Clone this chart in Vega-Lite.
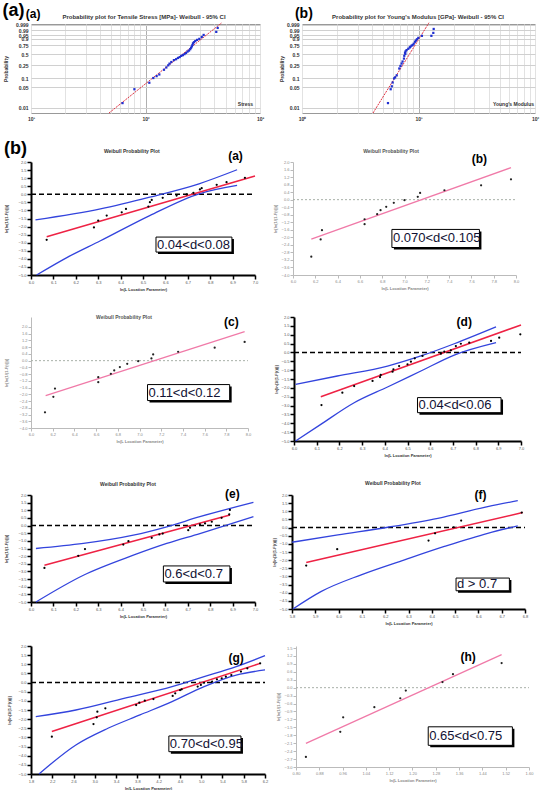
{
"$schema": "https://vega.github.io/schema/vega-lite/v6.json",
"padding": {"left": 2, "top": 1, "right": 0, "bottom": 0},
"background": "white",
"config": {"view": {"stroke": null}, "font": "Liberation Sans", "axis": {"labelFont": "Liberation Sans", "titleFont": "Liberation Sans"}, "title": {"font": "Liberation Sans"}},
"datasets": {
"ta": [
{"k":"fit","x":48,"y":-5},{"k":"fit","x":464,"y":2.1},
{"k":"pt","x":63,"y":-4.22},{"k":"pt","x":80,"y":-3.13},{"k":"pt","x":108,"y":-2.62},{"k":"pt","x":117,"y":-2.25},{"k":"pt","x":125,"y":-2.1},{"k":"pt","x":132,"y":-1.97},{"k":"pt","x":145,"y":-1.6},{"k":"pt","x":152,"y":-1.42},{"k":"pt","x":158,"y":-1.25},{"k":"pt","x":162,"y":-1.12},{"k":"pt","x":168,"y":-0.99},{"k":"pt","x":177,"y":-0.84},{"k":"pt","x":185,"y":-0.77},{"k":"pt","x":192,"y":-0.67},{"k":"pt","x":199,"y":-0.6},{"k":"pt","x":205,"y":-0.51},{"k":"pt","x":212,"y":-0.45},{"k":"pt","x":219,"y":-0.37},{"k":"pt","x":226,"y":-0.28},{"k":"pt","x":233,"y":-0.17},{"k":"pt","x":240,"y":-0.09},{"k":"pt","x":246,"y":0.02},{"k":"pt","x":250,"y":0.13},{"k":"pt","x":254,"y":0.24},{"k":"pt","x":257,"y":0.35},{"k":"pt","x":260,"y":0.48},{"k":"pt","x":265,"y":0.57},{"k":"pt","x":272,"y":0.66},{"k":"pt","x":282,"y":0.75},{"k":"pt","x":295,"y":0.83},{"k":"pt","x":310,"y":0.98},{"k":"pt","x":322,"y":1.14},{"k":"pt","x":415,"y":1.38},{"k":"pt","x":427,"y":1.69},
{"k":"txt","x":640,"y":-4.3,"t":"Stress"},
{"k":"ttl","x":97,"y":2.57,"t":"Probability plot for Tensile Stress [MPa]-  Weibull - 95% CI"},
{"k":"lab","x":9.0,"y":2.47,"t":"(a)"}
],
"tb": [
{"k":"fit","x":4.07,"y":-5},{"k":"fit","x":12.3,"y":2.1},
{"k":"pt","x":5.47,"y":-4.22},{"k":"pt","x":5.77,"y":-3.13},{"k":"pt","x":5.9,"y":-2.9},{"k":"pt","x":6.0,"y":-2.6},{"k":"pt","x":6.17,"y":-2.28},{"k":"pt","x":6.3,"y":-2.2},{"k":"pt","x":6.5,"y":-2.04},{"k":"pt","x":6.84,"y":-1.5},{"k":"pt","x":7.0,"y":-1.3},{"k":"pt","x":7.16,"y":-1.11},{"k":"pt","x":7.3,"y":-0.95},{"k":"pt","x":7.5,"y":-0.72},{"k":"pt","x":7.55,"y":-0.5},{"k":"pt","x":7.66,"y":-0.26},{"k":"pt","x":7.7,"y":-0.35},{"k":"pt","x":7.75,"y":-0.15},{"k":"pt","x":7.9,"y":-0.05},{"k":"pt","x":8.17,"y":0.05},{"k":"pt","x":8.4,"y":0.15},{"k":"pt","x":8.5,"y":0.2},{"k":"pt","x":8.7,"y":0.29},{"k":"pt","x":8.9,"y":0.35},{"k":"pt","x":9.1,"y":0.45},{"k":"pt","x":9.33,"y":0.6},{"k":"pt","x":9.5,"y":0.7},{"k":"pt","x":9.7,"y":0.8},{"k":"pt","x":9.96,"y":0.91},{"k":"pt","x":10.7,"y":1.07},{"k":"pt","x":12.9,"y":1.07},{"k":"pt","x":13.4,"y":1.3},{"k":"pt","x":13.5,"y":1.61},
{"k":"txt","x":43.6,"y":-4.3,"t":"Young's Modulus"},
{"k":"ttl","x":9.9,"y":2.57,"t":"Probability plot for Young's Modulus [GPa]-  Weibull - 95% CI"},
{"k":"lab","x":0.87,"y":2.47,"t":"(b)"}
],
"wa": [
{"k":"zero","x":6,"y":0},{"k":"zero","x":7,"y":0},
{"k":"fit","x":6.07,"y":-2.63},{"k":"fit","x":7.0,"y":1.13},
{"k":"ciu","x":6.02,"y":-1.59},{"k":"ciu","x":6.31,"y":-0.91},{"k":"ciu","x":6.53,"y":-0.18},{"k":"ciu","x":6.75,"y":0.65},{"k":"ciu","x":6.92,"y":1.52},
{"k":"cil","x":6.025,"y":-5.0},{"k":"cil","x":6.16,"y":-3.92},{"k":"cil","x":6.31,"y":-2.88},{"k":"cil","x":6.53,"y":-1.32},{"k":"cil","x":6.75,"y":0.03},{"k":"cil","x":6.92,"y":0.55},
{"k":"pt","x":6.07,"y":-2.82},{"k":"pt","x":6.281,"y":-2.05},{"k":"pt","x":6.30,"y":-1.63},{"k":"pt","x":6.338,"y":-1.32},{"k":"pt","x":6.405,"y":-1.12},{"k":"pt","x":6.424,"y":-0.91},{"k":"pt","x":6.524,"y":-0.76},{"k":"pt","x":6.531,"y":-0.49},{"k":"pt","x":6.539,"y":-0.35},{"k":"pt","x":6.588,"y":-0.22},{"k":"pt","x":6.65,"y":-0.08},{"k":"pt","x":6.695,"y":-0.01},{"k":"pt","x":6.725,"y":0.09},{"k":"pt","x":6.754,"y":0.30},{"k":"pt","x":6.762,"y":0.38},{"k":"pt","x":6.829,"y":0.59},{"k":"pt","x":6.873,"y":0.75},{"k":"pt","x":6.955,"y":1.02},
{"k":"box","x":6.558,"x2":6.897,"y":-2.65,"y2":-3.58,"ym":-3.115,"t":"0.04<d<0.08"},
{"k":"ttl","x":6.45,"y":2.68,"t":"Weibull Probability Plot"},
{"k":"lab","x":6.913,"y":2.12,"t":"(a)"}
],
"wb": [
{"k":"zero","x":6,"y":0},{"k":"zero","x":8,"y":0},
{"k":"fit","x":6.164,"y":-2.09},{"k":"fit","x":7.955,"y":1.70},
{"k":"pt","x":6.164,"y":-3.03},{"k":"pt","x":6.248,"y":-2.11},{"k":"pt","x":6.26,"y":-1.62},{"k":"pt","x":6.642,"y":-1.04},{"k":"pt","x":6.642,"y":-1.30},{"k":"pt","x":6.755,"y":-0.77},{"k":"pt","x":6.785,"y":-0.56},{"k":"pt","x":6.836,"y":-0.38},{"k":"pt","x":6.904,"y":-0.17},{"k":"pt","x":7.0,"y":-0.03},{"k":"pt","x":7.119,"y":0.15},{"k":"pt","x":7.14,"y":0.36},{"k":"pt","x":7.358,"y":0.5},{"k":"pt","x":7.687,"y":0.76},{"k":"pt","x":7.955,"y":1.08},
{"k":"box","x":6.887,"x2":7.672,"y":-1.58,"y2":-2.54,"ym":-2.06,"t":"0.070<d<0.105"},
{"k":"ttl","x":6.879,"y":2.58,"t":"Weibull Probability Plot"},
{"k":"lab","x":7.672,"y":1.95,"t":"(b)"}
],
"wc": [
{"k":"zero","x":6,"y":0},{"k":"zero","x":8,"y":0},
{"k":"fit","x":6.135,"y":-2.07},{"k":"fit","x":7.969,"y":1.72},
{"k":"pt","x":6.129,"y":-3.07},{"k":"pt","x":6.206,"y":-2.15},{"k":"pt","x":6.221,"y":-1.66},{"k":"pt","x":6.62,"y":-0.98},{"k":"pt","x":6.62,"y":-1.28},{"k":"pt","x":6.736,"y":-0.78},{"k":"pt","x":6.767,"y":-0.58},{"k":"pt","x":6.819,"y":-0.38},{"k":"pt","x":6.887,"y":-0.19},{"k":"pt","x":6.988,"y":-0.03},{"k":"pt","x":7.11,"y":0.13},{"k":"pt","x":7.126,"y":0.37},{"k":"pt","x":7.356,"y":0.53},{"k":"pt","x":7.693,"y":0.77},{"k":"pt","x":7.969,"y":1.11},
{"k":"box","x":7.074,"x2":7.831,"y":-1.42,"y2":-2.37,"ym":-1.895,"t":"0.11<d<0.12"},
{"k":"ttl","x":6.857,"y":2.59,"t":"Weibull Probability Plot"},
{"k":"lab","x":7.847,"y":2.06,"t":"(c)"}
],
"wd": [
{"k":"zero","x":6,"y":0},{"k":"zero","x":7,"y":0},
{"k":"fit","x":6.118,"y":-2.5},{"k":"fit","x":7.0,"y":1.55},
{"k":"ciu","x":6.007,"y":-1.80},{"k":"ciu","x":6.191,"y":-1.33},{"k":"ciu","x":6.412,"y":-0.77},{"k":"ciu","x":6.559,"y":-0.20},{"k":"ciu","x":6.706,"y":0.49},{"k":"ciu","x":6.89,"y":1.44},
{"k":"cil","x":6.007,"y":-5.0},{"k":"cil","x":6.118,"y":-4.06},{"k":"cil","x":6.265,"y":-2.84},{"k":"cil","x":6.412,"y":-1.95},{"k":"cil","x":6.559,"y":-1.05},{"k":"cil","x":6.706,"y":-0.15},{"k":"cil","x":6.89,"y":0.55},
{"k":"pt","x":6.121,"y":-2.97},{"k":"pt","x":6.213,"y":-2.27},{"k":"pt","x":6.265,"y":-1.90},{"k":"pt","x":6.346,"y":-1.61},{"k":"pt","x":6.379,"y":-1.39},{"k":"pt","x":6.382,"y":-1.27},{"k":"pt","x":6.434,"y":-1.09},{"k":"pt","x":6.438,"y":-0.95},{"k":"pt","x":6.463,"y":-0.77},{"k":"pt","x":6.5,"y":-0.67},{"k":"pt","x":6.515,"y":-0.52},{"k":"pt","x":6.532,"y":-0.33},{"k":"pt","x":6.566,"y":-0.20},{"k":"pt","x":6.647,"y":-0.07},{"k":"pt","x":6.662,"y":0.04},{"k":"pt","x":6.691,"y":0.12},{"k":"pt","x":6.713,"y":0.36},{"k":"pt","x":6.735,"y":0.49},{"k":"pt","x":6.772,"y":0.55},{"k":"pt","x":6.868,"y":0.65},{"k":"pt","x":6.904,"y":0.83},{"k":"pt","x":6.997,"y":1.02},
{"k":"box","x":6.544,"x2":6.912,"y":-2.55,"y2":-3.40,"ym":-2.975,"t":"0.04<d<0.06"},
{"k":"lab","x":6.75,"y":1.5,"t":"(d)"}
],
"we": [
{"k":"zero","x":6,"y":0},{"k":"zero","x":7,"y":0},
{"k":"fit","x":6.06,"y":-2.59},{"k":"fit","x":6.888,"y":0.69},
{"k":"ciu","x":6.022,"y":-1.5},{"k":"ciu","x":6.234,"y":-1.17},{"k":"ciu","x":6.457,"y":-0.63},{"k":"ciu","x":6.606,"y":-0.08},{"k":"ciu","x":6.754,"y":0.58},{"k":"ciu","x":6.993,"y":1.52},
{"k":"cil","x":6.022,"y":-5.0},{"k":"cil","x":6.234,"y":-3.25},{"k":"cil","x":6.457,"y":-1.94},{"k":"cil","x":6.606,"y":-1.17},{"k":"cil","x":6.754,"y":-0.52},{"k":"cil","x":6.993,"y":0.58},
{"k":"pt","x":6.06,"y":-2.77},{"k":"pt","x":6.211,"y":-1.98},{"k":"pt","x":6.241,"y":-1.54},{"k":"pt","x":6.412,"y":-1.24},{"k":"pt","x":6.435,"y":-1.02},{"k":"pt","x":6.539,"y":-0.80},{"k":"pt","x":6.573,"y":-0.58},{"k":"pt","x":6.588,"y":-0.52},{"k":"pt","x":6.702,"y":-0.30},{"k":"pt","x":6.71,"y":-0.14},{"k":"pt","x":6.754,"y":0.08},{"k":"pt","x":6.777,"y":0.14},{"k":"pt","x":6.807,"y":0.25},{"k":"pt","x":6.851,"y":0.51},{"k":"pt","x":6.885,"y":0.73},{"k":"pt","x":6.888,"y":1.02},
{"k":"box","x":6.591,"x2":6.888,"y":-2.64,"y2":-3.69,"ym":-3.165,"t":"0.6<d<0.7"},
{"k":"ttl","x":6.433,"y":2.72,"t":"Weibull Probability Plot"},
{"k":"lab","x":6.899,"y":1.8,"t":"(e)"}
],
"wf": [
{"k":"zero","x":5.8,"y":0},{"k":"zero","x":6.8,"y":0},
{"k":"fit","x":5.861,"y":-2.14},{"k":"fit","x":6.79,"y":0.92},
{"k":"ciu","x":5.8,"y":-0.9},{"k":"ciu","x":5.997,"y":-0.45},{"k":"ciu","x":6.211,"y":0.02},{"k":"ciu","x":6.426,"y":0.57},{"k":"ciu","x":6.64,"y":1.29},{"k":"ciu","x":6.769,"y":1.65},
{"k":"cil","x":5.804,"y":-5.0},{"k":"cil","x":5.926,"y":-3.92},{"k":"cil","x":6.097,"y":-2.90},{"k":"cil","x":6.283,"y":-1.98},{"k":"cil","x":6.454,"y":-1.16},{"k":"cil","x":6.64,"y":-0.35},{"k":"cil","x":6.769,"y":0.10},
{"k":"pt","x":5.861,"y":-2.33},{"k":"pt","x":5.994,"y":-1.33},{"k":"pt","x":6.386,"y":-0.80},{"k":"pt","x":6.414,"y":-0.35},{"k":"pt","x":6.494,"y":0.02},{"k":"pt","x":6.526,"y":0.43},{"k":"pt","x":6.786,"y":0.92},
{"k":"box","x":6.504,"x2":6.733,"y":-3.10,"y2":-3.88,"ym":-3.49,"t":"d > 0.7"},
{"k":"ttl","x":6.233,"y":2.74,"t":"Weibull Probability Plot"},
{"k":"lab","x":6.609,"y":1.73,"t":"(f)"}
],
"wg": [
{"k":"zero","x":1.8,"y":0},{"k":"zero","x":6.2,"y":0},
{"k":"fit","x":2.192,"y":-2.68},{"k":"fit","x":6.11,"y":1.05},
{"k":"ciu","x":1.89,"y":-1.86},{"k":"ciu","x":2.644,"y":-1.5},{"k":"ciu","x":3.548,"y":-0.86},{"k":"ciu","x":4.452,"y":-0.22},{"k":"ciu","x":5.055,"y":0.32},{"k":"ciu","x":5.658,"y":0.87},{"k":"ciu","x":6.2,"y":1.47},
{"k":"cil","x":1.95,"y":-5.0},{"k":"cil","x":2.644,"y":-3.41},{"k":"cil","x":3.247,"y":-2.50},{"k":"cil","x":3.849,"y":-1.77},{"k":"cil","x":4.452,"y":-1.04},{"k":"cil","x":5.055,"y":-0.22},{"k":"cil","x":5.658,"y":0.41},{"k":"cil","x":6.2,"y":0.69},
{"k":"pt","x":2.192,"y":-2.96},{"k":"pt","x":2.975,"y":-2.27},{"k":"pt","x":3.036,"y":-1.90},{"k":"pt","x":3.048,"y":-1.59},{"k":"pt","x":3.198,"y":-1.41},{"k":"pt","x":3.777,"y":-1.23},{"k":"pt","x":3.837,"y":-1.10},{"k":"pt","x":3.94,"y":-0.99},{"k":"pt","x":4.102,"y":-0.90},{"k":"pt","x":4.464,"y":-0.73},{"k":"pt","x":4.512,"y":-0.59},{"k":"pt","x":4.603,"y":-0.41},{"k":"pt","x":4.633,"y":-0.37},{"k":"pt","x":4.934,"y":-0.22},{"k":"pt","x":4.994,"y":-0.13},{"k":"pt","x":5.055,"y":-0.01},{"k":"pt","x":5.205,"y":0.05},{"k":"pt","x":5.296,"y":0.18},{"k":"pt","x":5.386,"y":0.23},{"k":"pt","x":5.464,"y":0.32},{"k":"pt","x":5.567,"y":0.41},{"k":"pt","x":5.748,"y":0.60},{"k":"pt","x":5.868,"y":0.78},{"k":"pt","x":6.109,"y":1.05},
{"k":"box","x":4.392,"x2":5.748,"y":-2.92,"y2":-3.78,"ym":-3.35,"t":"0.70<d<0.95"},
{"k":"lab","x":5.657,"y":1.1,"t":"(g)"}
],
"wh": [
{"k":"zero","x":0.8,"y":0},{"k":"zero","x":1.6,"y":0},
{"k":"fit","x":0.834,"y":-2.11},{"k":"fit","x":1.506,"y":1.25},
{"k":"pt","x":0.834,"y":-2.62},{"k":"pt","x":0.952,"y":-1.67},{"k":"pt","x":0.962,"y":-1.12},{"k":"pt","x":1.069,"y":-0.74},{"k":"pt","x":1.158,"y":-0.40},{"k":"pt","x":1.177,"y":-0.11},{"k":"pt","x":1.303,"y":0.21},{"k":"pt","x":1.339,"y":0.51},{"k":"pt","x":1.506,"y":0.93},
{"k":"box","x":1.254,"x2":1.543,"y":-1.48,"y2":-2.18,"ym":-1.83,"t":"0.65<d<0.75"},
{"k":"lab","x":1.391,"y":0.99,"t":"(h)"}
]
},
"columns": 1, "align": "none", "spacing": 18,
"concat": [
{
"title": {"text": "(a)", "anchor": "start", "fontSize": 18, "fontWeight": "bold", "color": "black", "offset": -13},
"columns": 2, "align": "none", "spacing": 13,
"concat": [
{
"width": 229, "height": 89, "view": {"stroke": "#999"},
"data": {"name": "ta"},
"encoding": {
"x": {"field": "x", "type": "quantitative", "scale": {"type": "log", "domain": [10, 1000]}, "axis": {"title": null, "values": [10,20,30,40,50,60,70,80,90,100,200,300,400,500,600,700,800,900,1000], "labelExpr": "datum.value==10?'10¹':datum.value==100?'10²':datum.value==1000?'10³':''", "labelFontSize": 5, "labelFontWeight": "bold", "labelColor": "#333", "tickSize": 0, "domain": false, "labelPadding": 3, "labelFlush": false, "labelOverlap": false, "grid": true, "gridColor": {"condition": {"test": "datum.value==100", "value": "#b0b0b0"}, "value": "#e2e2e2"}}},
"y": {"field": "y", "type": "quantitative", "scale": {"domain": [-5, 2], "nice": false, "zero": false}, "axis": {"title": "Probability", "titleFontSize": 5, "titleFontWeight": "bold", "titleColor": "#333", "values": [-4.6002,-2.9702,-2.2504,-1.2459,-0.3665,0.3266,0.834,1.0972,1.5272,1.9326], "labelExpr": "format(1-exp(-exp(datum.value)), '.3~f')", "labelFontSize": 5, "labelFontWeight": "bold", "labelColor": "#333", "tickSize": 0, "domain": false, "labelPadding": 3, "labelFlush": false, "labelOverlap": false, "grid": true, "gridColor": "#d0d0d0", "minExtent": 16, "maxExtent": 16, "titlePadding": 7}}
},
"layer": [
{"transform": [{"filter": "datum.k=='fit'"}], "mark": {"type": "line", "color": "#e03040", "strokeWidth": 1, "strokeDash": [2, 1]}},
{"transform": [{"filter": "datum.k=='pt'"}], "mark": {"type": "square", "filled": true, "size": 5, "color": "#2030d0", "opacity": 1}},
{"transform": [{"filter": "datum.k=='txt'"}], "mark": {"type": "text", "fontSize": 5, "fontWeight": "bold", "align": "left", "baseline": "middle", "color": "#333"}, "encoding": {"text": {"field": "t"}}},
{"transform": [{"filter": "datum.k=='ttl'"}], "mark": {"type": "text", "fontSize": 6, "fontWeight": "bold", "align": "center", "baseline": "middle", "color": "#333"}, "encoding": {"text": {"field": "t"}}},
{"transform": [{"filter": "datum.k=='lab'"}], "mark": {"type": "text", "fontSize": 12, "fontWeight": "bold", "align": "left", "baseline": "alphabetic", "color": "black"}, "encoding": {"text": {"field": "t"}}}
]
},
{
"width": 233, "height": 89, "view": {"stroke": "#999"},
"data": {"name": "tb"},
"encoding": {
"x": {"field": "x", "type": "quantitative", "scale": {"type": "log", "domain": [1, 100]}, "axis": {"title": null, "values": [1,2,3,4,5,6,7,8,9,10,20,30,40,50,60,70,80,90,100], "labelExpr": "datum.value==1?'10⁰':datum.value==10?'10¹':datum.value==100?'10²':''", "labelFontSize": 5, "labelFontWeight": "bold", "labelColor": "#333", "tickSize": 0, "domain": false, "labelPadding": 3, "labelFlush": false, "labelOverlap": false, "grid": true, "gridColor": {"condition": {"test": "datum.value==10", "value": "#b0b0b0"}, "value": "#e2e2e2"}}},
"y": {"field": "y", "type": "quantitative", "scale": {"domain": [-5, 2], "nice": false, "zero": false}, "axis": {"title": "Probability", "titleFontSize": 5, "titleFontWeight": "bold", "titleColor": "#333", "values": [-4.6002,-2.9702,-2.2504,-1.2459,-0.3665,0.3266,0.834,1.0972,1.5272,1.9326], "labelExpr": "format(1-exp(-exp(datum.value)), '.3~f')", "labelFontSize": 5, "labelFontWeight": "bold", "labelColor": "#333", "tickSize": 0, "domain": false, "labelPadding": 3, "labelFlush": false, "labelOverlap": false, "grid": true, "gridColor": "#d0d0d0", "minExtent": 16, "maxExtent": 16, "titlePadding": 2}}
},
"layer": [
{"transform": [{"filter": "datum.k=='fit'"}], "mark": {"type": "line", "color": "#e03040", "strokeWidth": 1, "strokeDash": [2, 1]}},
{"transform": [{"filter": "datum.k=='pt'"}], "mark": {"type": "square", "filled": true, "size": 5, "color": "#2030d0", "opacity": 1}},
{"transform": [{"filter": "datum.k=='txt'"}], "mark": {"type": "text", "fontSize": 5, "fontWeight": "bold", "align": "left", "baseline": "middle", "color": "#333"}, "encoding": {"text": {"field": "t"}}},
{"transform": [{"filter": "datum.k=='ttl'"}], "mark": {"type": "text", "fontSize": 6, "fontWeight": "bold", "align": "center", "baseline": "middle", "color": "#333"}, "encoding": {"text": {"field": "t"}}},
{"transform": [{"filter": "datum.k=='lab'"}], "mark": {"type": "text", "fontSize": 14, "fontWeight": "bold", "align": "left", "baseline": "alphabetic", "color": "black"}, "encoding": {"text": {"field": "t"}}}
]
}
]
},
{
"columns": 1, "align": "none", "spacing": 24,
"concat": [
{
"title": {"text": "(b)", "anchor": "start", "fontSize": 18, "fontWeight": "bold", "color": "black", "offset": -9},
"columns": 2, "align": "none", "spacing": 15,
"concat": [
{
"width": 224, "height": 113,
"data": {"name": "wa"},
"encoding": {
"x": {"field": "x", "type": "quantitative", "scale": {"domain": [6, 7], "nice": false, "zero": false}, "axis": {"values": [6,6.1,6.2,6.3,6.4,6.5,6.6,6.7,6.8,6.9,7], "format": ".1f", "title": "ln(L Location Parameter)", "labelFontSize": 4, "labelColor": "#555", "titleFontSize": 4, "titleFontWeight": "bold", "titleColor": "#333", "domainColor": "black", "domainWidth": 2, "tickColor": "black", "tickWidth": 1.5, "tickSize": 4, "labelPadding": 1, "titlePadding": 3, "labelFlush": false, "labelOverlap": false, "grid": false}},
"y": {"field": "y", "type": "quantitative", "scale": {"domain": [-5, 2], "nice": false, "zero": false}, "axis": {"values": [-5,-4.5,-4,-3.5,-3,-2.5,-2,-1.5,-1,-0.5,0,0.5,1,1.5,2], "format": ".1f", "title": "ln[ln(1/(1-F(t)))]", "labelFontSize": 4, "labelColor": "#555", "titleFontSize": 4, "titleFontWeight": "bold", "titleColor": "#333", "domainColor": "black", "domainWidth": 2, "tickColor": "black", "tickWidth": 1.5, "tickSize": 4, "labelPadding": 1, "titlePadding": 9, "minExtent": 14, "maxExtent": 14, "labelFlush": false, "labelOverlap": false, "grid": false}}
},
"layer": [
{"transform": [{"filter": "datum.k=='zero'"}], "mark": {"type": "line", "color": "black", "strokeWidth": 1.5, "strokeDash": [5, 3]}},
{"transform": [{"filter": "datum.k=='ciu'||datum.k=='cil'"}], "mark": {"type": "line", "color": "#3344dd", "strokeWidth": 1.3, "interpolate": "monotone"}, "encoding": {"detail": {"field": "k"}}},
{"transform": [{"filter": "datum.k=='fit'"}], "mark": {"type": "line", "color": "#ee2244", "strokeWidth": 1.5}},
{"transform": [{"filter": "datum.k=='pt'"}], "mark": {"type": "circle", "size": 5, "color": "black", "opacity": 1}},
{"transform": [{"filter": "datum.k=='box'"}], "mark": {"type": "rect", "fill": "black", "xOffset": 2, "x2Offset": 2, "yOffset": 2, "y2Offset": 2}, "encoding": {"x2": {"field": "x2"}, "y2": {"field": "y2"}}},
{"transform": [{"filter": "datum.k=='box'"}], "mark": {"type": "rect", "fill": "white", "stroke": "black", "strokeWidth": 1}, "encoding": {"x2": {"field": "x2"}, "y2": {"field": "y2"}}},
{"transform": [{"filter": "datum.k=='box'"}], "mark": {"type": "text", "align": "left", "baseline": "middle", "dx": 1, "fontSize": 13, "color": "#111133"}, "encoding": {"y": {"field": "ym", "type": "quantitative"}, "text": {"field": "t"}}},
{"transform": [{"filter": "datum.k=='ttl'"}], "mark": {"type": "text", "align": "center", "baseline": "middle", "fontSize": 5, "fontWeight": "bold", "color": "#333"}, "encoding": {"text": {"field": "t"}}},
{"transform": [{"filter": "datum.k=='lab'"}], "mark": {"type": "text", "align": "center", "baseline": "alphabetic", "fontSize": 12, "fontWeight": "bold", "color": "black"}, "encoding": {"text": {"field": "t"}}}
]
},
{
"width": 223, "height": 113,
"data": {"name": "wb"},
"encoding": {
"x": {"field": "x", "type": "quantitative", "scale": {"domain": [6, 8], "nice": false, "zero": false}, "axis": {"values": [6,6.2,6.4,6.6,6.8,7,7.2,7.4,7.6,7.8,8], "format": ".1f", "title": "ln(L Location Parameter)", "labelFontSize": 4, "labelColor": "#888", "titleFontSize": 4, "titleColor": "#888", "domainColor": "#bbb", "domainWidth": 1, "tickColor": "#bbb", "tickWidth": 1, "tickSize": 3, "labelPadding": 1, "titlePadding": 3, "labelFlush": false, "labelOverlap": false, "grid": false}},
"y": {"field": "y", "type": "quantitative", "scale": {"domain": [-4, 2], "nice": false, "zero": false}, "axis": {"values": [-4,-3.6,-3.2,-2.8,-2.4,-2,-1.6,-1.2,-0.8,-0.4,0,0.4,0.8,1.2,1.6,2], "format": ".1f", "title": "ln[ln(1/(1-F(t)))]", "labelFontSize": 4, "labelColor": "#888", "titleFontSize": 4, "titleColor": "#888", "domainColor": "#bbb", "domainWidth": 1, "tickColor": "#bbb", "tickWidth": 1, "tickSize": 3, "labelPadding": 1, "titlePadding": 2, "minExtent": 14, "maxExtent": 14, "labelFlush": false, "labelOverlap": false, "grid": false}}
},
"layer": [
{"transform": [{"filter": "datum.k=='zero'"}], "mark": {"type": "line", "color": "#a8b0a8", "strokeWidth": 1, "strokeDash": [2, 2]}},
{"transform": [{"filter": "datum.k=='fit'"}], "mark": {"type": "line", "color": "#f07aa8", "strokeWidth": 1.3}},
{"transform": [{"filter": "datum.k=='pt'"}], "mark": {"type": "circle", "size": 5, "color": "#222", "opacity": 1}},
{"transform": [{"filter": "datum.k=='box'"}], "mark": {"type": "rect", "fill": "black", "xOffset": 2, "x2Offset": 2, "yOffset": 2, "y2Offset": 2}, "encoding": {"x2": {"field": "x2"}, "y2": {"field": "y2"}}},
{"transform": [{"filter": "datum.k=='box'"}], "mark": {"type": "rect", "fill": "white", "stroke": "black", "strokeWidth": 1}, "encoding": {"x2": {"field": "x2"}, "y2": {"field": "y2"}}},
{"transform": [{"filter": "datum.k=='box'"}], "mark": {"type": "text", "align": "left", "baseline": "middle", "dx": 1, "fontSize": 13, "color": "#111133"}, "encoding": {"y": {"field": "ym", "type": "quantitative"}, "text": {"field": "t"}}},
{"transform": [{"filter": "datum.k=='ttl'"}], "mark": {"type": "text", "align": "center", "baseline": "middle", "fontSize": 5, "fontWeight": "bold", "color": "#555"}, "encoding": {"text": {"field": "t"}}},
{"transform": [{"filter": "datum.k=='lab'"}], "mark": {"type": "text", "align": "center", "baseline": "alphabetic", "fontSize": 12, "fontWeight": "bold", "color": "black"}, "encoding": {"text": {"field": "t"}}}
]
}
]
},
{
"columns": 1, "align": "none", "spacing": 23,
"concat": [
{
"columns": 2, "align": "none", "spacing": 23,
"concat": [
{
"width": 217, "height": 111,
"data": {"name": "wc"},
"encoding": {
"x": {"field": "x", "type": "quantitative", "scale": {"domain": [6, 8], "nice": false, "zero": false}, "axis": {"values": [6,6.2,6.4,6.6,6.8,7,7.2,7.4,7.6,7.8,8], "format": ".1f", "title": "ln(L Location Parameter)", "labelFontSize": 4, "labelColor": "#888", "titleFontSize": 4, "titleColor": "#888", "domainColor": "#bbb", "domainWidth": 1, "tickColor": "#bbb", "tickWidth": 1, "tickSize": 3, "labelPadding": 1, "titlePadding": 3, "labelFlush": false, "labelOverlap": false, "grid": false}},
"y": {"field": "y", "type": "quantitative", "scale": {"domain": [-4, 2.594], "nice": false, "zero": false}, "axis": {"values": [-4,-3.6,-3.2,-2.8,-2.4,-2,-1.6,-1.2,-0.8,-0.4,0,0.4,0.8,1.2,1.6,2], "format": ".1f", "title": "ln[ln(1/(1-F(t)))]", "labelFontSize": 4, "labelColor": "#888", "titleFontSize": 4, "titleColor": "#888", "domainColor": "#bbb", "domainWidth": 1, "tickColor": "#bbb", "tickWidth": 1, "tickSize": 3, "labelPadding": 1, "titlePadding": 9, "minExtent": 14, "maxExtent": 14, "labelFlush": false, "labelOverlap": false, "grid": false}}
},
"layer": [
{"transform": [{"filter": "datum.k=='zero'"}], "mark": {"type": "line", "color": "#a8b0a8", "strokeWidth": 1, "strokeDash": [2, 2]}},
{"transform": [{"filter": "datum.k=='fit'"}], "mark": {"type": "line", "color": "#f07aa8", "strokeWidth": 1.3}},
{"transform": [{"filter": "datum.k=='pt'"}], "mark": {"type": "circle", "size": 5, "color": "#222", "opacity": 1}},
{"transform": [{"filter": "datum.k=='box'"}], "mark": {"type": "rect", "fill": "black", "xOffset": 2, "x2Offset": 2, "yOffset": 2, "y2Offset": 2}, "encoding": {"x2": {"field": "x2"}, "y2": {"field": "y2"}}},
{"transform": [{"filter": "datum.k=='box'"}], "mark": {"type": "rect", "fill": "white", "stroke": "black", "strokeWidth": 1}, "encoding": {"x2": {"field": "x2"}, "y2": {"field": "y2"}}},
{"transform": [{"filter": "datum.k=='box'"}], "mark": {"type": "text", "align": "left", "baseline": "middle", "dx": 1, "fontSize": 13, "color": "#111133"}, "encoding": {"y": {"field": "ym", "type": "quantitative"}, "text": {"field": "t"}}},
{"transform": [{"filter": "datum.k=='ttl'"}], "mark": {"type": "text", "align": "center", "baseline": "middle", "fontSize": 5, "fontWeight": "bold", "color": "#555"}, "encoding": {"text": {"field": "t"}}},
{"transform": [{"filter": "datum.k=='lab'"}], "mark": {"type": "text", "align": "center", "baseline": "alphabetic", "fontSize": 12, "fontWeight": "bold", "color": "black"}, "encoding": {"text": {"field": "t"}}}
]
},
{
"width": 227, "height": 124,
"data": {"name": "wd"},
"encoding": {
"x": {"field": "x", "type": "quantitative", "scale": {"domain": [6, 7], "nice": false, "zero": false}, "axis": {"values": [6,6.1,6.2,6.3,6.4,6.5,6.6,6.7,6.8,6.9,7], "format": ".1f", "title": "ln(L Location Parameter)", "labelFontSize": 4, "labelColor": "#555", "titleFontSize": 4, "titleFontWeight": "bold", "titleColor": "#333", "domainColor": "black", "domainWidth": 2, "tickColor": "black", "tickWidth": 1.5, "tickSize": 4, "labelPadding": 1, "titlePadding": 3, "labelFlush": false, "labelOverlap": false, "grid": false}},
"y": {"field": "y", "type": "quantitative", "scale": {"domain": [-5, 2], "nice": false, "zero": false}, "axis": {"values": [-5,-4.5,-4,-3.5,-3,-2.5,-2,-1.5,-1,-0.5,0,0.5,1,1.5,2], "format": ".1f", "title": "ln[ln(1/(1-F(t)))]", "labelFontSize": 4, "labelColor": "#555", "titleFontSize": 4, "titleFontWeight": "bold", "titleColor": "#333", "domainColor": "black", "domainWidth": 2, "tickColor": "black", "tickWidth": 1.5, "tickSize": 4, "labelPadding": 1, "titlePadding": 2, "minExtent": 14, "maxExtent": 14, "labelFlush": false, "labelOverlap": false, "grid": false}}
},
"layer": [
{"transform": [{"filter": "datum.k=='zero'"}], "mark": {"type": "line", "color": "black", "strokeWidth": 1.5, "strokeDash": [5, 3]}},
{"transform": [{"filter": "datum.k=='ciu'||datum.k=='cil'"}], "mark": {"type": "line", "color": "#3344dd", "strokeWidth": 1.3, "interpolate": "monotone"}, "encoding": {"detail": {"field": "k"}}},
{"transform": [{"filter": "datum.k=='fit'"}], "mark": {"type": "line", "color": "#ee2244", "strokeWidth": 1.5}},
{"transform": [{"filter": "datum.k=='pt'"}], "mark": {"type": "circle", "size": 5, "color": "black", "opacity": 1}},
{"transform": [{"filter": "datum.k=='box'"}], "mark": {"type": "rect", "fill": "black", "xOffset": 2, "x2Offset": 2, "yOffset": 2, "y2Offset": 2}, "encoding": {"x2": {"field": "x2"}, "y2": {"field": "y2"}}},
{"transform": [{"filter": "datum.k=='box'"}], "mark": {"type": "rect", "fill": "white", "stroke": "black", "strokeWidth": 1}, "encoding": {"x2": {"field": "x2"}, "y2": {"field": "y2"}}},
{"transform": [{"filter": "datum.k=='box'"}], "mark": {"type": "text", "align": "left", "baseline": "middle", "dx": 1, "fontSize": 13, "color": "#111133"}, "encoding": {"y": {"field": "ym", "type": "quantitative"}, "text": {"field": "t"}}},
{"transform": [{"filter": "datum.k=='lab'"}], "mark": {"type": "text", "align": "center", "baseline": "alphabetic", "fontSize": 12, "fontWeight": "bold", "color": "black"}, "encoding": {"text": {"field": "t"}}}
]
}
]
},
{
"columns": 1, "align": "none", "spacing": 19,
"concat": [
{
"columns": 2, "align": "none", "spacing": 14,
"concat": [
{
"width": 224, "height": 107,
"data": {"name": "we"},
"encoding": {
"x": {"field": "x", "type": "quantitative", "scale": {"domain": [6, 7], "nice": false, "zero": false}, "axis": {"values": [6,6.1,6.2,6.3,6.4,6.5,6.6,6.7,6.8,6.9,7], "format": ".1f", "title": "ln(L Location Parameter)", "labelFontSize": 4, "labelColor": "#555", "titleFontSize": 4, "titleFontWeight": "bold", "titleColor": "#333", "domainColor": "black", "domainWidth": 2, "tickColor": "black", "tickWidth": 1.5, "tickSize": 4, "labelPadding": 1, "titlePadding": 3, "labelFlush": false, "labelOverlap": false, "grid": false}},
"y": {"field": "y", "type": "quantitative", "scale": {"domain": [-5, 2], "nice": false, "zero": false}, "axis": {"values": [-5,-4.5,-4,-3.5,-3,-2.5,-2,-1.5,-1,-0.5,0,0.5,1,1.5,2], "format": ".1f", "title": "ln[ln(1/(1-F(t)))]", "labelFontSize": 4, "labelColor": "#555", "titleFontSize": 4, "titleFontWeight": "bold", "titleColor": "#333", "domainColor": "black", "domainWidth": 2, "tickColor": "black", "tickWidth": 1.5, "tickSize": 4, "labelPadding": 1, "titlePadding": 9, "minExtent": 14, "maxExtent": 14, "labelFlush": false, "labelOverlap": false, "grid": false}}
},
"layer": [
{"transform": [{"filter": "datum.k=='zero'"}], "mark": {"type": "line", "color": "black", "strokeWidth": 1.5, "strokeDash": [5, 3]}},
{"transform": [{"filter": "datum.k=='ciu'||datum.k=='cil'"}], "mark": {"type": "line", "color": "#3344dd", "strokeWidth": 1.3, "interpolate": "monotone"}, "encoding": {"detail": {"field": "k"}}},
{"transform": [{"filter": "datum.k=='fit'"}], "mark": {"type": "line", "color": "#ee2244", "strokeWidth": 1.5}},
{"transform": [{"filter": "datum.k=='pt'"}], "mark": {"type": "circle", "size": 5, "color": "black", "opacity": 1}},
{"transform": [{"filter": "datum.k=='box'"}], "mark": {"type": "rect", "fill": "black", "xOffset": 2, "x2Offset": 2, "yOffset": 2, "y2Offset": 2}, "encoding": {"x2": {"field": "x2"}, "y2": {"field": "y2"}}},
{"transform": [{"filter": "datum.k=='box'"}], "mark": {"type": "rect", "fill": "white", "stroke": "black", "strokeWidth": 1}, "encoding": {"x2": {"field": "x2"}, "y2": {"field": "y2"}}},
{"transform": [{"filter": "datum.k=='box'"}], "mark": {"type": "text", "align": "left", "baseline": "middle", "dx": 1, "fontSize": 13, "color": "#111133"}, "encoding": {"y": {"field": "ym", "type": "quantitative"}, "text": {"field": "t"}}},
{"transform": [{"filter": "datum.k=='ttl'"}], "mark": {"type": "text", "align": "center", "baseline": "middle", "fontSize": 5, "fontWeight": "bold", "color": "#333"}, "encoding": {"text": {"field": "t"}}},
{"transform": [{"filter": "datum.k=='lab'"}], "mark": {"type": "text", "align": "center", "baseline": "alphabetic", "fontSize": 12, "fontWeight": "bold", "color": "black"}, "encoding": {"text": {"field": "t"}}}
]
},
{
"width": 233, "height": 114,
"data": {"name": "wf"},
"encoding": {
"x": {"field": "x", "type": "quantitative", "scale": {"domain": [5.8, 6.8], "nice": false, "zero": false}, "axis": {"values": [5.8,5.9,6,6.1,6.2,6.3,6.4,6.5,6.6,6.7,6.8], "format": ".1f", "title": "ln(L Location Parameter)", "labelFontSize": 4, "labelColor": "#555", "titleFontSize": 4, "titleFontWeight": "bold", "titleColor": "#333", "domainColor": "black", "domainWidth": 2, "tickColor": "black", "tickWidth": 1.5, "tickSize": 4, "labelPadding": 1, "titlePadding": 3, "labelFlush": false, "labelOverlap": false, "grid": false}},
"y": {"field": "y", "type": "quantitative", "scale": {"domain": [-5, 2], "nice": false, "zero": false}, "axis": {"values": [-5,-4.5,-4,-3.5,-3,-2.5,-2,-1.5,-1,-0.5,0,0.5,1,1.5,2], "format": ".1f", "title": "ln[ln(1/(1-F(t)))]", "labelFontSize": 4, "labelColor": "#555", "titleFontSize": 4, "titleFontWeight": "bold", "titleColor": "#333", "domainColor": "black", "domainWidth": 2, "tickColor": "black", "tickWidth": 1.5, "tickSize": 4, "labelPadding": 1, "titlePadding": 2, "minExtent": 14, "maxExtent": 14, "labelFlush": false, "labelOverlap": false, "grid": false}}
},
"layer": [
{"transform": [{"filter": "datum.k=='zero'"}], "mark": {"type": "line", "color": "black", "strokeWidth": 1.5, "strokeDash": [5, 3]}},
{"transform": [{"filter": "datum.k=='ciu'||datum.k=='cil'"}], "mark": {"type": "line", "color": "#3344dd", "strokeWidth": 1.3, "interpolate": "monotone"}, "encoding": {"detail": {"field": "k"}}},
{"transform": [{"filter": "datum.k=='fit'"}], "mark": {"type": "line", "color": "#ee2244", "strokeWidth": 1.5}},
{"transform": [{"filter": "datum.k=='pt'"}], "mark": {"type": "circle", "size": 5, "color": "black", "opacity": 1}},
{"transform": [{"filter": "datum.k=='box'"}], "mark": {"type": "rect", "fill": "black", "xOffset": 2, "x2Offset": 2, "yOffset": 2, "y2Offset": 2}, "encoding": {"x2": {"field": "x2"}, "y2": {"field": "y2"}}},
{"transform": [{"filter": "datum.k=='box'"}], "mark": {"type": "rect", "fill": "white", "stroke": "black", "strokeWidth": 1}, "encoding": {"x2": {"field": "x2"}, "y2": {"field": "y2"}}},
{"transform": [{"filter": "datum.k=='box'"}], "mark": {"type": "text", "align": "left", "baseline": "middle", "dx": 1, "fontSize": 13, "color": "#111133"}, "encoding": {"y": {"field": "ym", "type": "quantitative"}, "text": {"field": "t"}}},
{"transform": [{"filter": "datum.k=='ttl'"}], "mark": {"type": "text", "align": "center", "baseline": "middle", "fontSize": 5, "fontWeight": "bold", "color": "#333"}, "encoding": {"text": {"field": "t"}}},
{"transform": [{"filter": "datum.k=='lab'"}], "mark": {"type": "text", "align": "center", "baseline": "alphabetic", "fontSize": 12, "fontWeight": "bold", "color": "black"}, "encoding": {"text": {"field": "t"}}}
]
}
]
},
{
"columns": 2, "align": "none", "spacing": 8,
"concat": [
{
"width": 234, "height": 128,
"data": {"name": "wg"},
"encoding": {
"x": {"field": "x", "type": "quantitative", "scale": {"domain": [1.8, 6.2], "nice": false, "zero": false}, "axis": {"values": [1.8,2.2,2.6,3,3.4,3.8,4.2,4.6,5,5.4,5.8,6.2], "format": ".1f", "title": "ln(L Location Parameter)", "labelFontSize": 4, "labelColor": "#555", "titleFontSize": 4, "titleFontWeight": "bold", "titleColor": "#333", "domainColor": "black", "domainWidth": 2, "tickColor": "black", "tickWidth": 1.5, "tickSize": 4, "labelPadding": 1, "titlePadding": 3, "labelFlush": false, "labelOverlap": false, "grid": false}},
"y": {"field": "y", "type": "quantitative", "scale": {"domain": [-5, 2], "nice": false, "zero": false}, "axis": {"values": [-5,-4.5,-4,-3.5,-3,-2.5,-2,-1.5,-1,-0.5,0,0.5,1,1.5,2], "format": ".1f", "title": "ln[ln(1/(1-F(t)))]", "labelFontSize": 4, "labelColor": "#555", "titleFontSize": 4, "titleFontWeight": "bold", "titleColor": "#333", "domainColor": "black", "domainWidth": 2, "tickColor": "black", "tickWidth": 1.5, "tickSize": 4, "labelPadding": 1, "titlePadding": 6, "minExtent": 14, "maxExtent": 14, "labelFlush": false, "labelOverlap": false, "grid": false}}
},
"layer": [
{"transform": [{"filter": "datum.k=='zero'"}], "mark": {"type": "line", "color": "black", "strokeWidth": 1.5, "strokeDash": [5, 3]}},
{"transform": [{"filter": "datum.k=='ciu'||datum.k=='cil'"}], "mark": {"type": "line", "color": "#3344dd", "strokeWidth": 1.3, "interpolate": "monotone"}, "encoding": {"detail": {"field": "k"}}},
{"transform": [{"filter": "datum.k=='fit'"}], "mark": {"type": "line", "color": "#ee2244", "strokeWidth": 1.5}},
{"transform": [{"filter": "datum.k=='pt'"}], "mark": {"type": "circle", "size": 5, "color": "black", "opacity": 1}},
{"transform": [{"filter": "datum.k=='box'"}], "mark": {"type": "rect", "fill": "black", "xOffset": 2, "x2Offset": 2, "yOffset": 2, "y2Offset": 2}, "encoding": {"x2": {"field": "x2"}, "y2": {"field": "y2"}}},
{"transform": [{"filter": "datum.k=='box'"}], "mark": {"type": "rect", "fill": "white", "stroke": "black", "strokeWidth": 1}, "encoding": {"x2": {"field": "x2"}, "y2": {"field": "y2"}}},
{"transform": [{"filter": "datum.k=='box'"}], "mark": {"type": "text", "align": "left", "baseline": "middle", "dx": 1, "fontSize": 13, "color": "#111133"}, "encoding": {"y": {"field": "ym", "type": "quantitative"}, "text": {"field": "t"}}},
{"transform": [{"filter": "datum.k=='lab'"}], "mark": {"type": "text", "align": "center", "baseline": "alphabetic", "fontSize": 12, "fontWeight": "bold", "color": "black"}, "encoding": {"text": {"field": "t"}}}
]
},
{
"width": 233, "height": 121,
"data": {"name": "wh"},
"encoding": {
"x": {"field": "x", "type": "quantitative", "scale": {"domain": [0.8, 1.6], "nice": false, "zero": false}, "axis": {"values": [0.8,0.88,0.96,1.04,1.12,1.2,1.28,1.36,1.44,1.52,1.6], "format": ".2f", "title": "ln(L Location Parameter)", "labelFontSize": 4, "labelColor": "#888", "titleFontSize": 4, "titleColor": "#888", "domainColor": "#bbb", "domainWidth": 1, "tickColor": "#bbb", "tickWidth": 1, "tickSize": 3, "labelPadding": 1, "titlePadding": 3, "labelFlush": false, "labelOverlap": false, "grid": false}},
"y": {"field": "y", "type": "quantitative", "scale": {"domain": [-3, 1.576], "nice": false, "zero": false}, "axis": {"values": [-3,-2.7,-2.4,-2.1,-1.8,-1.5,-1.2,-0.9,-0.6,-0.3,0,0.3,0.6,0.9,1.2,1.5], "format": ".1f", "title": "ln[ln(1/(1-F(t)))]", "labelFontSize": 4, "labelColor": "#888", "titleFontSize": 4, "titleColor": "#888", "domainColor": "#bbb", "domainWidth": 1, "tickColor": "#bbb", "tickWidth": 1, "tickSize": 3, "labelPadding": 1, "titlePadding": 2, "minExtent": 14, "maxExtent": 14, "labelFlush": false, "labelOverlap": false, "grid": false}}
},
"layer": [
{"transform": [{"filter": "datum.k=='zero'"}], "mark": {"type": "line", "color": "#a8b0a8", "strokeWidth": 1, "strokeDash": [2, 2]}},
{"transform": [{"filter": "datum.k=='fit'"}], "mark": {"type": "line", "color": "#f07aa8", "strokeWidth": 1.3}},
{"transform": [{"filter": "datum.k=='pt'"}], "mark": {"type": "circle", "size": 5, "color": "#222", "opacity": 1}},
{"transform": [{"filter": "datum.k=='box'"}], "mark": {"type": "rect", "fill": "black", "xOffset": 2, "x2Offset": 2, "yOffset": 2, "y2Offset": 2}, "encoding": {"x2": {"field": "x2"}, "y2": {"field": "y2"}}},
{"transform": [{"filter": "datum.k=='box'"}], "mark": {"type": "rect", "fill": "white", "stroke": "black", "strokeWidth": 1}, "encoding": {"x2": {"field": "x2"}, "y2": {"field": "y2"}}},
{"transform": [{"filter": "datum.k=='box'"}], "mark": {"type": "text", "align": "left", "baseline": "middle", "dx": 1, "fontSize": 13, "color": "#111133"}, "encoding": {"y": {"field": "ym", "type": "quantitative"}, "text": {"field": "t"}}},
{"transform": [{"filter": "datum.k=='lab'"}], "mark": {"type": "text", "align": "center", "baseline": "alphabetic", "fontSize": 12, "fontWeight": "bold", "color": "black"}, "encoding": {"text": {"field": "t"}}}
]
}
]
}
]
}
]
}
]
}
]
}
